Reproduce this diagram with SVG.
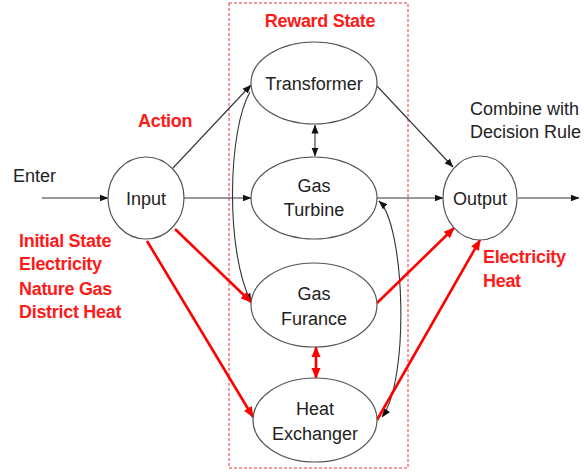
<svg xmlns="http://www.w3.org/2000/svg" width="584" height="475" viewBox="0 0 584 475">
<style>
  .node ellipse { fill: #ffffff; stroke: #555555; stroke-width: 1.2; }
  .lbl { font-family: "Liberation Sans", Arial, sans-serif; font-size: 18px; fill: #222222; }
  .red { font-family: "Liberation Sans", Arial, sans-serif; font-size: 18px; font-weight: bold; fill: #ff1a1a; letter-spacing: -0.3px; }
  .blk { fill: none; stroke: #333333; stroke-width: 1.1; }
  .rd { fill: none; stroke: #ff0000; stroke-width: 2.6; }
</style>
<defs>
  <marker id="ab" markerUnits="userSpaceOnUse" markerWidth="9" markerHeight="8" refX="8.5" refY="4" orient="auto-start-reverse">
    <path d="M0,0.5 L9,4 L0,7.5 z" fill="#111111"/>
  </marker>
  <marker id="ar" markerUnits="userSpaceOnUse" markerWidth="11" markerHeight="10" refX="10" refY="5" orient="auto-start-reverse">
    <path d="M0,0.5 L11,5 L0,9.5 z" fill="#ff0000"/>
  </marker>
</defs>

<rect x="229" y="3" width="179" height="465" fill="none" stroke="#e8333a" stroke-width="1" stroke-dasharray="3,2"/>
<text class="red" x="320" y="27" text-anchor="middle">Reward State</text>

<g id="connectors">
  <line class="blk" x1="42" y1="198" x2="108" y2="198" marker-end="url(#ab)"/>
  <line class="blk" x1="184" y1="198" x2="251" y2="198" marker-end="url(#ab)"/>
  <line class="blk" x1="173" y1="168" x2="251" y2="85" marker-end="url(#ab)"/>
  <path class="blk" d="M 250 92 C 228 130, 225 250, 251 302" marker-end="url(#ab)"/>
  <line class="blk" x1="315" y1="125" x2="315" y2="156" marker-start="url(#ab)" marker-end="url(#ab)"/>
  <line class="blk" x1="377" y1="86" x2="453" y2="167" marker-end="url(#ab)"/>
  <line class="blk" x1="377" y1="198" x2="443" y2="198" marker-end="url(#ab)"/>
  <path class="blk" d="M 379 201 C 405 225, 410 380, 382 417" marker-start="url(#ab)" marker-end="url(#ab)"/>
  <line class="blk" x1="518" y1="198" x2="579" y2="198" marker-end="url(#ab)"/>

  <line class="rd" x1="175" y1="229" x2="251" y2="302" marker-end="url(#ar)"/>
  <line class="rd" x1="147" y1="241" x2="253" y2="417" marker-end="url(#ar)"/>
  <line class="rd" x1="316" y1="347" x2="316" y2="378" marker-start="url(#ar)" marker-end="url(#ar)"/>
  <line class="rd" x1="377" y1="303" x2="454" y2="228" marker-end="url(#ar)"/>
  <line class="rd" x1="377" y1="420" x2="480" y2="240" marker-end="url(#ar)"/>
</g>

<g id="input" class="node">
  <ellipse cx="146" cy="198" rx="38" ry="41"/>
  <text class="lbl" x="146" y="205" text-anchor="middle">Input</text>
</g>
<g id="output" class="node">
  <ellipse cx="480" cy="198" rx="37" ry="42"/>
  <text class="lbl" x="480" y="205" text-anchor="middle">Output</text>
</g>
<g id="transformer" class="node">
  <ellipse cx="314" cy="83" rx="63" ry="41"/>
  <text class="lbl" x="314" y="90" text-anchor="middle">Transformer</text>
</g>
<g id="gas-turbine" class="node">
  <ellipse cx="314" cy="198" rx="63" ry="41"/>
  <text class="lbl" x="314" y="192" text-anchor="middle">Gas</text>
  <text class="lbl" x="314" y="216" text-anchor="middle">Turbine</text>
</g>
<g id="gas-furance" class="node">
  <ellipse cx="314" cy="305" rx="63" ry="42"/>
  <text class="lbl" x="314" y="300" text-anchor="middle">Gas</text>
  <text class="lbl" x="314" y="325" text-anchor="middle">Furance</text>
</g>
<g id="heat-exchanger" class="node">
  <ellipse cx="315" cy="420" rx="62" ry="42"/>
  <text class="lbl" x="315" y="415" text-anchor="middle">Heat</text>
  <text class="lbl" x="315" y="440" text-anchor="middle">Exchanger</text>
</g>

<text class="lbl" x="13" y="182">Enter</text>
<text class="red" x="138" y="127">Action</text>
<text class="red" x="19" y="247">Initial State</text>
<text class="red" x="19" y="270">Electricity</text>
<text class="red" x="19" y="295">Nature Gas</text>
<text class="red" x="19" y="318">District Heat</text>
<text class="lbl" x="470" y="115">Combine with</text>
<text class="lbl" x="470" y="138">Decision Rule</text>
<text class="red" x="483" y="263">Electricity</text>
<text class="red" x="483" y="287">Heat</text>
</svg>
